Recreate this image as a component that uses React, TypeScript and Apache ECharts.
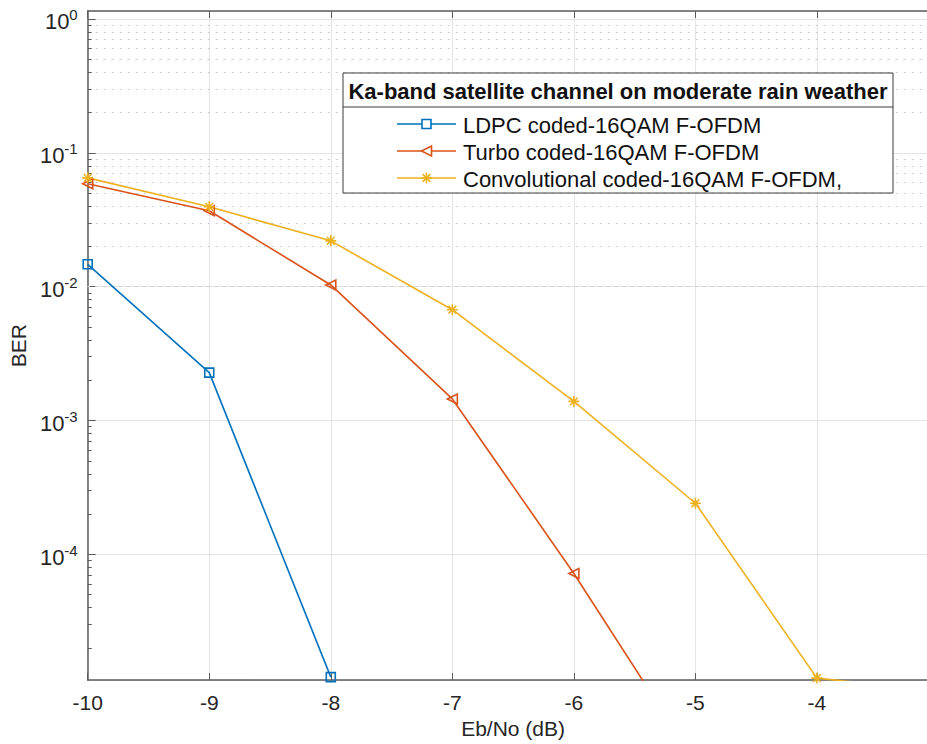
import React, { useEffect, useRef } from "react";
import * as echarts from "echarts";

// Eb/No (dB) sample points
const EBNO = [-10, -9, -8, -7, -6, -5, -4, -3];

// Bit error rates per coding scheme (points below the axis floor are clipped)
const LDPC_BER = [0.0147, 0.00228, 1.21e-5];
const TURBO_BER = [0.0587, 0.0369, 0.0103, 0.00145, 7.2e-5, 2.8e-6];
const CONV_BER = [0.065, 0.0395, 0.022, 0.00673, 0.00139, 2.41e-4, 1.19e-5, 9.5e-6];

const SERIES_NAMES = [
  "LDPC coded-16QAM F-OFDM",
  "Turbo coded-16QAM F-OFDM",
  "Convolutional coded-16QAM F-OFDM,",
];
const LEGEND_TITLE = "Ka-band satellite channel on moderate rain weather";
const COLORS = ["#0072BD", "#D95319", "#EDB120"];

// Axis ranges
const X_MIN = -10;
const X_MAX = -3;
const Y_MIN = 1.15e-5;
const Y_MAX = 1.147;

// Minor log grid: mantissas 2..9 within each decade
const MINOR_MANTISSAS = [2, 3, 4, 5, 6, 7, 8, 9];
const MINOR_DECADES = [-5, -4, -3, -2, -1, 0];

const FONT = "'Liberation Sans', Arial, Helvetica, sans-serif";
const TEXT_COLOR = "#262626";
const AXIS_COLOR = "#5c5c5c";

const SQUARE = "path://M0,0L10,0L10,10L0,10Z";
const LEFT_TRIANGLE = "path://M0,5L10,0L10,10Z";
const ASTERISK =
  "path://M5,0L5,10M0,5L10,5M1.5,1.5L8.5,8.5M1.5,8.5L8.5,1.5";

const toPairs = (ys: number[]) => ys.map((y, i) => [EBNO[i], y]);

export default function App() {
  const ref = useRef<HTMLDivElement>(null);

  useEffect(() => {
    if (!ref.current) return;
    const chart = echarts.init(ref.current, null, { renderer: "svg" });

    const minorValues: number[] = [];
    MINOR_DECADES.forEach((d) =>
      MINOR_MANTISSAS.forEach((m) => {
        const v = m * Math.pow(10, d);
        if (v > Y_MIN && v < Y_MAX) minorValues.push(v);
      })
    );

    const tickLen = ((X_MAX - X_MIN) / 851) * 4;

    const series: any[] = [
      {
        name: SERIES_NAMES[0],
        type: "line",
        data: toPairs(LDPC_BER),
        symbol: SQUARE,
        symbolSize: 9,
        lineStyle: { color: COLORS[0], width: 1.6 },
        itemStyle: { color: "rgba(0,0,0,0)", borderColor: COLORS[0], borderWidth: 1.6 },
        clip: true,
        silent: true,
        z: 5,
        // minor dotted grid + minor ticks on the left axis
        markLine: {
          silent: true,
          symbol: "none",
          label: { show: false },
          animation: false,
          data: [
            ...minorValues.map((v) => ({
              yAxis: v,
              lineStyle: { color: "#cccccc", width: 1, type: [2, 6] },
            })),
            ...minorValues.map((v) => [
              { coord: [X_MIN, v], lineStyle: { color: AXIS_COLOR, width: 1, type: "solid" } },
              { coord: [X_MIN + tickLen, v] },
            ]),
          ],
        },
      },
      {
        name: SERIES_NAMES[1],
        type: "line",
        data: toPairs(TURBO_BER),
        symbol: LEFT_TRIANGLE,
        symbolSize: 10,
        lineStyle: { color: COLORS[1], width: 1.6 },
        itemStyle: { color: "rgba(0,0,0,0)", borderColor: COLORS[1], borderWidth: 1.6 },
        clip: true,
        silent: true,
        z: 5,
      },
      {
        name: SERIES_NAMES[2],
        type: "line",
        data: toPairs(CONV_BER),
        symbol: ASTERISK,
        symbolSize: 11,
        lineStyle: { color: COLORS[2], width: 1.6 },
        itemStyle: { color: "rgba(0,0,0,0)", borderColor: COLORS[2], borderWidth: 1.6 },
        clip: true,
        silent: true,
        z: 5,
      },
    ];

    // Legend box drawn as graphics
    const boxLeft = 343;
    const boxTop = 73;
    const boxW = 550;
    const boxH = 120;
    const sepY = 107;
    const rowY = [124, 151, 178];
    const lineX1 = 397;
    const lineX2 = 456;
    const markX = (lineX1 + lineX2) / 2;
    const textX = 463;

    const legendMarker = (i: number, y: number): any[] => {
      const stroke = { stroke: COLORS[i], lineWidth: 1.6, fill: "#fff" };
      if (i === 0)
        return [
          { type: "rect", shape: { x: markX - 4.5, y: y - 4.5, width: 9, height: 9 }, style: stroke, z: 102 },
        ];
      if (i === 1)
        return [
          {
            type: "polygon",
            shape: { points: [[markX - 5, y], [markX + 5, y - 5], [markX + 5, y + 5]] },
            style: stroke,
            z: 102,
          },
        ];
      const r = 5.5;
      const d = 3.9;
      return [
        [0, -r, 0, r],
        [-r, 0, r, 0],
        [-d, -d, d, d],
        [-d, d, d, -d],
      ].map(([a, b, c, e]) => ({
        type: "line",
        shape: { x1: markX + a, y1: y + b, x2: markX + c, y2: y + e },
        style: { stroke: COLORS[i], lineWidth: 1.6 },
        z: 102,
      }));
    };

    const legendGraphics: any[] = [
      {
        type: "rect",
        shape: { x: boxLeft, y: boxTop, width: boxW, height: boxH },
        style: { fill: "#fff", stroke: "#3a3a3a", lineWidth: 1 },
        z: 100,
      },
      {
        type: "line",
        shape: { x1: boxLeft, y1: sepY, x2: boxLeft + boxW, y2: sepY },
        style: { stroke: "#3a3a3a", lineWidth: 1 },
        z: 101,
      },
      {
        type: "text",
        x: boxLeft + boxW / 2,
        y: (boxTop + sepY) / 2 + 1,
        style: {
          text: LEGEND_TITLE,
          font: `bold 22px ${FONT}`,
          fill: "#111",
          align: "center",
          verticalAlign: "middle",
        },
        z: 101,
      },
      ...rowY.flatMap((y, i) => [
        {
          type: "line",
          shape: { x1: lineX1, y1: y, x2: lineX2, y2: y },
          style: { stroke: COLORS[i], lineWidth: 1.6 },
          z: 101,
        },
        ...legendMarker(i, y),
        {
          type: "text",
          x: textX,
          y: y + 1,
          style: {
            text: SERIES_NAMES[i],
            font: `22px ${FONT}`,
            fill: "#111",
            align: "left",
            verticalAlign: "middle",
          },
          z: 101,
        },
      ]),
    ];

    const width = ref.current.clientWidth;

    chart.setOption({
      animation: false,
      backgroundColor: "#ffffff",
      grid: { left: 87, top: 11, right: width - 938.5, bottom: 61, containLabel: false },
      xAxis: [
        {
          type: "value",
          min: X_MIN,
          max: X_MAX,
          interval: 1,
          name: "Eb/No (dB)",
          nameLocation: "middle",
          nameGap: 35,
          nameTextStyle: { fontFamily: FONT, fontSize: 21, color: TEXT_COLOR },
          axisLine: { show: true, onZero: false, lineStyle: { color: AXIS_COLOR, width: 1.5 } },
          axisTick: { show: true, inside: true, length: 7, lineStyle: { color: AXIS_COLOR, width: 1 } },
          axisLabel: {
            fontFamily: FONT,
            fontSize: 21,
            color: TEXT_COLOR,
            margin: 12,
            formatter: (v: number) => (v === X_MAX ? "" : String(v)),
          },
          splitLine: { show: true, lineStyle: { color: "#e4e4e4", width: 1 } },
        },
        {
          type: "value",
          position: "top",
          min: X_MIN,
          max: X_MAX,
          interval: 1,
          axisLine: { show: true, onZero: false, lineStyle: { color: AXIS_COLOR, width: 1.5 } },
          axisTick: { show: true, inside: true, length: 7, lineStyle: { color: AXIS_COLOR, width: 1 } },
          axisLabel: { show: false },
          splitLine: { show: false },
        },
      ],
      yAxis: {
        type: "log",
        logBase: 10,
        min: Y_MIN,
        max: Y_MAX,
        name: "BER",
        nameLocation: "middle",
        nameGap: 57,
        nameTextStyle: { fontFamily: FONT, fontSize: 21, color: TEXT_COLOR },
        axisLine: { show: true, onZero: false, lineStyle: { color: AXIS_COLOR, width: 1.5 } },
        axisTick: { show: true, inside: true, length: 8, lineStyle: { color: AXIS_COLOR, width: 1 } },
        axisLabel: {
          showMinLabel: false,
          showMaxLabel: false,
          margin: 10,
          fontFamily: FONT,
          color: TEXT_COLOR,
          formatter: (v: number) => {
            const lg = Math.log10(v);
            const e = Math.round(lg);
            if (Math.abs(lg - e) > 1e-6) return "";
            return `{b|10}{s|${e}}`;
          },
          rich: {
            b: { fontFamily: FONT, fontSize: 22, color: TEXT_COLOR, padding: [6, 0, 0, 0] },
            s: { fontFamily: FONT, fontSize: 15, color: TEXT_COLOR, padding: [0, 0, 8, 0] },
          },
        },
        splitLine: { show: true, lineStyle: { color: "#e4e4e4", width: 1 } },
      },
      series,
      graphic: legendGraphics,
    });

    return () => chart.dispose();
  }, []);

  return (
    <div
      style={{
        position: "absolute",
        left: 0,
        top: 0,
        width: 927,
        height: 744,
        overflow: "hidden",
        background: "#fff",
      }}
    >
      <div ref={ref} style={{ width: 960, height: 744 }} />
    </div>
  );
}
